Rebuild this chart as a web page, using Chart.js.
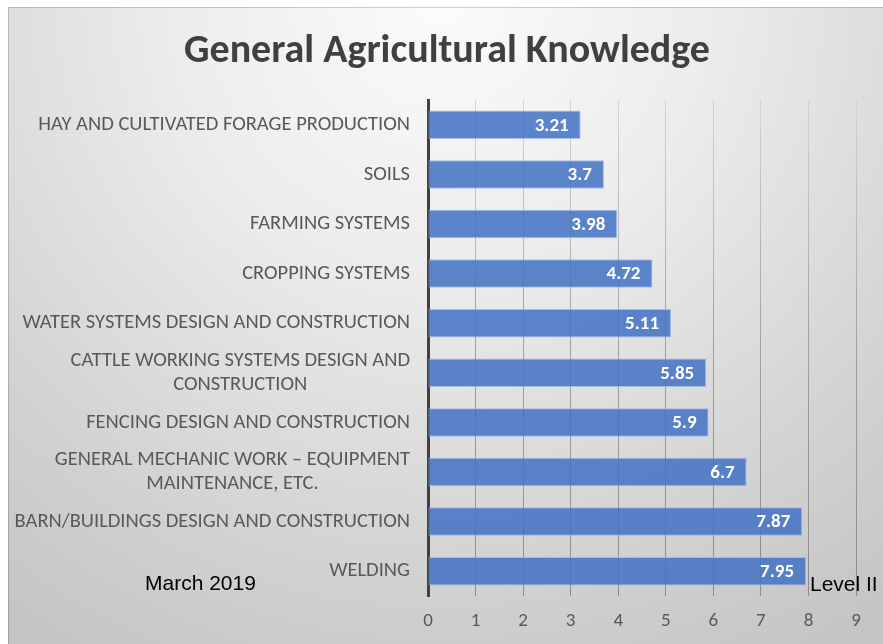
<!DOCTYPE html>
<html><head><meta charset="utf-8">
<script src="https://cdn.jsdelivr.net/npm/chart.js@4.4.1/dist/chart.umd.min.js"></script>
<style>html,body{margin:0;padding:0;background:#fff}#wrap{width:883px;height:644px;position:relative}</style>
</head><body><div id="wrap"><canvas id="c" width="883" height="644"></canvas></div>
<script>
const categories = [
  ["HAY AND CULTIVATED FORAGE PRODUCTION"],
  ["SOILS"],
  ["FARMING SYSTEMS"],
  ["CROPPING SYSTEMS"],
  ["WATER SYSTEMS DESIGN AND CONSTRUCTION"],
  ["CATTLE WORKING SYSTEMS DESIGN AND", "CONSTRUCTION"],
  ["FENCING DESIGN AND CONSTRUCTION"],
  ["GENERAL MECHANIC WORK \u2013 EQUIPMENT", "MAINTENANCE, ETC."],
  ["BARN/BUILDINGS DESIGN AND CONSTRUCTION"],
  ["WELDING"]
];
const values = [3.21, 3.7, 3.98, 4.72, 5.11, 5.85, 5.9, 6.7, 7.87, 7.95];
const valueLabels = ["3.21", "3.7", "3.98", "4.72", "5.11", "5.85", "5.9", "6.7", "7.87", "7.95"];
const xMin = 0, xMax = 9, xStep = 1;
const titleText = "General Agricultural Knowledge";
const footLeft = "March 2019";
const footRight = "Level II";

const FONT = "Carlito, Lato, 'Open Sans', sans-serif";

const bgPlugin = {
  id: 'bg',
  beforeDraw(chart) {
    const ctx = chart.ctx;
    ctx.save();
    ctx.fillStyle = '#ffffff';
    ctx.fillRect(0, 0, chart.width, chart.height);
    const g = ctx.createRadialGradient(440, 0, 10, 440, 0, 760);
    g.addColorStop(0, '#fbfbfb');
    g.addColorStop(0.35, '#ececec');
    g.addColorStop(0.75, '#d2d2d2');
    g.addColorStop(1, '#c4c4c4');
    ctx.fillStyle = g;
    ctx.fillRect(8, 7, chart.width - 8, chart.height - 7);
    ctx.strokeStyle = 'rgba(0,0,0,0.18)';
    ctx.lineWidth = 1;
    ctx.beginPath();
    ctx.moveTo(8.5, chart.height);
    ctx.lineTo(8.5, 7.5);
    ctx.lineTo(chart.width, 7.5);
    ctx.stroke();
    // title
    ctx.font = "bold 40px " + FONT;
    ctx.fillStyle = '#404040';
    ctx.textAlign = 'center';
    ctx.textBaseline = 'alphabetic';
    ctx.fillText(titleText, 447, 62);
    ctx.restore();
  }
};

const labelPlugin = {
  id: 'labels',
  afterDatasetsDraw(chart) {
    const ctx = chart.ctx;
    const ys = chart.scales.y;
    ctx.save();
    // category labels
    ctx.font = "20.5px " + FONT;
    ctx.fillStyle = '#595959';
    ctx.textAlign = 'center';
    ctx.textBaseline = 'middle';
    const rightEdge = 410;
    const lineH = 24;
    categories.forEach((lines, i) => {
      const y = ys.getPixelForValue(i);
      let maxW = 0;
      lines.forEach(l => { maxW = Math.max(maxW, ctx.measureText(l).width); });
      const cx = rightEdge - maxW / 2;
      lines.forEach((l, j) => {
        ctx.fillText(l, cx, y + (j - (lines.length - 1) / 2) * lineH);
      });
    });
    // value labels
    const meta = chart.getDatasetMeta(0);
    ctx.font = "bold 19px " + FONT;
    ctx.fillStyle = '#ffffff';
    ctx.textAlign = 'right';
    meta.data.forEach((bar, i) => {
      ctx.fillText(valueLabels[i], bar.x - 12, bar.y + 1);
    });
    // footnotes
    ctx.font = "21px 'Liberation Sans', Arial, sans-serif";
    ctx.fillStyle = '#000000';
    ctx.textAlign = 'left';
    ctx.textBaseline = 'alphabetic';
    ctx.fillText(footLeft, 145, 590);
    ctx.fillText(footRight, 810, 591);
    ctx.restore();
  }
};

const ctx = document.getElementById('c').getContext('2d');
const gridGrad = ctx.createLinearGradient(0, 100, 0, 596);
gridGrad.addColorStop(0, '#d4d4d4');
gridGrad.addColorStop(0.5, '#a0a0a0');
gridGrad.addColorStop(1, '#8c8c8c');

new Chart(ctx, {
  type: 'bar',
  data: {
    labels: categories,
    datasets: [{
      data: values,
      backgroundColor: 'rgba(68,114,196,0.86)',
      borderColor: 'rgba(150,180,230,0.8)',
      borderWidth: 1,
      borderSkipped: false,
      barPercentage: 0.575,
      categoryPercentage: 1.0
    }]
  },
  options: {
    indexAxis: 'y',
    responsive: false,
    animation: false,
    devicePixelRatio: 1,
    layout: { padding: { left: 8, right: 27, top: 100, bottom: 0 } },
    plugins: {
      legend: { display: false },
      tooltip: { enabled: false },
      title: { display: false }
    },
    scales: {
      x: {
        min: xMin, max: xMax,
        ticks: { stepSize: xStep, color: '#595959', font: { family: FONT, size: 19 }, padding: 14 },
        grid: { color: gridGrad, lineWidth: 1, drawTicks: false },
        border: { display: false },
        afterFit(s) { s.height = 48; }
      },
      y: {
        ticks: { display: false },
        grid: { display: false },
        border: { display: true, color: '#404040', width: 3 },
        afterFit(s) { s.width = 420; }
      }
    }
  },
  plugins: [bgPlugin, labelPlugin]
});
</script>
</body></html>
